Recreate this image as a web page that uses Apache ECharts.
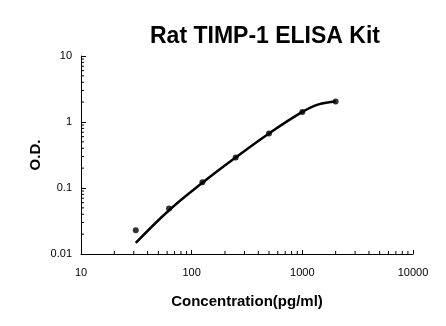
<!DOCTYPE html>
<html>
<head>
<meta charset="utf-8">
<script src="https://cdn.jsdelivr.net/npm/echarts@6/dist/echarts.min.js"></script>
<style>
html,body{margin:0;padding:0;background:#fff;}
#c{width:446px;height:326px;}
</style>
</head>
<body>
<div id="c"></div>
<script>
var titleText = "Rat TIMP-1 ELISA Kit";
var xName = "Concentration(pg/ml)";
var yName = "O.D.";
var concentrations = [31.25, 62.5, 125, 250, 500, 1000, 2000];
var odValues = [0.023, 0.049, 0.122, 0.291, 0.672, 1.42, 2.05];
var curveX = [31.25, 62.5, 125, 250, 500, 1000, 1400, 2000];
var curveY = [0.0147, 0.046, 0.12, 0.29, 0.67, 1.42, 1.85, 2.05];
var xDecades = [10, 100, 1000];
var yDecades = [0.01, 0.1, 1];
var minorMultiples = [2, 3, 4, 5, 6, 7, 8, 9];

var xMinor = [], yMinor = [];
xDecades.forEach(function (d) { minorMultiples.forEach(function (m) { xMinor.push(d * m); }); });
yDecades.forEach(function (d) { minorMultiples.forEach(function (m) { yMinor.push(+(d * m).toPrecision(3)); }); });

var chart = echarts.init(document.getElementById('c'), null, {renderer: 'canvas'});
var font = 'Liberation Sans, Arial, sans-serif';

function tickSeries(values, isX) {
  return {
    type: 'custom', silent: true, z: 1,
    data: values.map(function (v) { return isX ? [v, 0.01] : [10, v]; }),
    renderItem: function (params, api) {
      var p = api.coord([api.value(0), api.value(1)]);
      var len = 3;
      var shape = isX ? {x1: p[0], y1: p[1], x2: p[0], y2: p[1] - len}
                      : {x1: p[0], y1: p[1], x2: p[0] + len, y2: p[1]};
      return {type: 'line', shape: shape, style: {stroke: '#000', lineWidth: 1}};
    }
  };
}

chart.setOption({
  animation: false,
  backgroundColor: '#fff',
  title: {
    text: titleText, left: 260, top: 20, textAlign: 'center',
    textStyle: {fontFamily: font, fontSize: 23, fontWeight: 'bold', color: '#000'}
  },
  grid: {left: 81, right: 33, top: 56, bottom: 72, containLabel: false},
  xAxis: {
    type: 'log', logBase: 10, min: 10, max: 10000,
    name: xName, nameLocation: 'middle', nameGap: 40, nameMoveOverlap: false,
    nameTextStyle: {fontFamily: font, fontSize: 15, fontWeight: 'bold', color: '#000'},
    axisLine: {lineStyle: {color: '#000', width: 1}},
    axisTick: {inside: true, length: 4, lineStyle: {color: '#000'}},
    axisLabel: {fontFamily: font, fontSize: 11, color: '#000', margin: 13,
      formatter: function (v) { return String(v); }},
    splitLine: {show: false}
  },
  yAxis: {
    type: 'log', logBase: 10, min: 0.01, max: 10,
    name: yName, nameLocation: 'middle', nameGap: 38, nameRotate: 90, nameMoveOverlap: false,
    nameTextStyle: {fontFamily: font, fontSize: 15, fontWeight: 'bold', color: '#000'},
    axisLine: {show: true, lineStyle: {color: '#000', width: 1}},
    axisTick: {inside: true, length: 5, lineStyle: {color: '#000'}},
    axisLabel: {fontFamily: font, fontSize: 11, color: '#000', margin: 9,
      formatter: function (v) { return String(v); }},
    splitLine: {show: false}
  },
  series: [
    tickSeries(xMinor, true),
    tickSeries(yMinor, false),
    {
      type: 'line', smooth: 0.4, showSymbol: false, symbol: 'none',
      data: curveX.map(function (x, i) { return [x, curveY[i]]; }),
      lineStyle: {color: '#000', width: 2.5}, z: 2
    },
    {
      type: 'scatter', symbol: 'circle', symbolSize: 6,
      data: concentrations.map(function (x, i) { return [x, odValues[i]]; }),
      itemStyle: {color: '#000'}, z: 3
    }
  ]
});
</script>
</body>
</html>
